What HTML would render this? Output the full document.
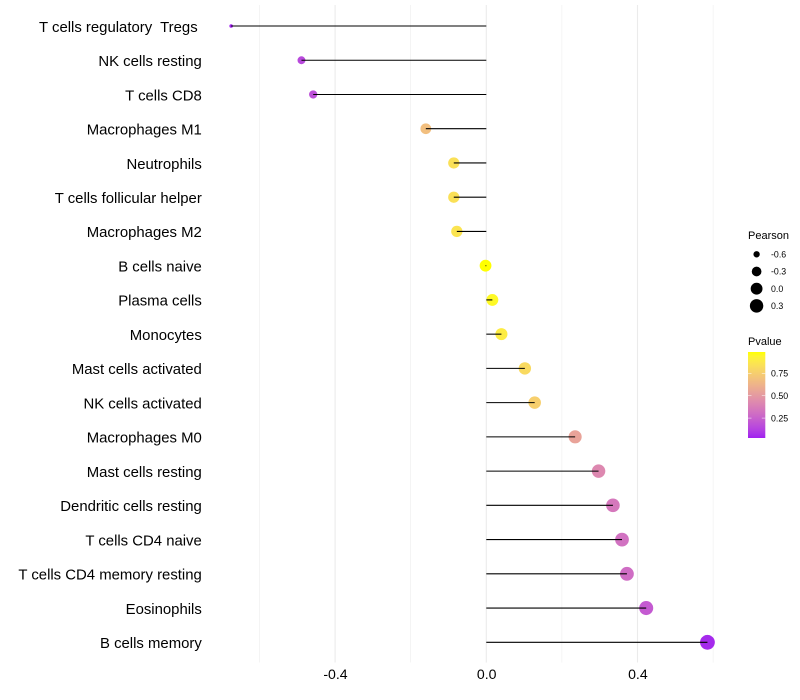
<!DOCTYPE html>
<html>
<head>
<meta charset="utf-8">
<title>Pearson lollipop chart</title>
<style>
html,body{margin:0;padding:0;background:#fff;width:800px;height:700px;overflow:hidden}
svg{display:block}
text{font-family:"Liberation Sans",sans-serif;white-space:pre}
</style>
</head>
<body>
<svg id="chart" xmlns="http://www.w3.org/2000/svg" width="800" height="700" viewBox="0 0 800 700"></svg>
<script>
const categories = ["T cells regulatory  Tregs ","NK cells resting","T cells CD8","Macrophages M1","Neutrophils","T cells follicular helper","Macrophages M2","B cells naive","Plasma cells","Monocytes","Mast cells activated","NK cells activated","Macrophages M0","Mast cells resting","Dendritic cells resting","T cells CD4 naive","T cells CD4 memory resting","Eosinophils","B cells memory"];
const pearson = [-0.675,-0.489,-0.458,-0.160,-0.086,-0.086,-0.078,-0.002,0.016,0.040,0.102,0.128,0.235,0.297,0.335,0.359,0.372,0.423,0.585];
const pvalue = [0.03,0.15,0.18,0.68,0.84,0.84,0.86,0.99,0.96,0.90,0.81,0.76,0.55,0.42,0.35,0.32,0.30,0.22,0.05];
const xMajorTicks = [-0.4,0,0.4];
const xTickLabels = ["-0.4","0.0","0.4"];
const xMinorTicks = [-0.6,-0.2,0.2,0.6];
const sizeBreaks = [-0.6,-0.3,0,0.3];
const sizeLabels = ["-0.6","-0.3","0.0","0.3"];
const colorBreaks = [0.75,0.5,0.25];
const colorLabels = ["0.75","0.50","0.25"];

const svg = document.getElementById('chart');
const NS = 'http://www.w3.org/2000/svg';
function mk(tag, attrs, parent) {
  const e = document.createElementNS(NS, tag);
  for (const k in attrs) e.setAttribute(k, attrs[k]);
  (parent || svg).appendChild(e);
  return e;
}
/* axis functions */
function xScale(v) { return 486.3 + v * 378; }
function yScale(i) { return 26 + i * (642.3 - 26) / 18; }
const minP = Math.min(...pearson), maxP = Math.max(...pearson);
function rScale(v) {
  const t = Math.max(0, (v - minP) / (maxP - minP));
  return 1.8 + 5.6 * Math.sqrt(t);
}
const legendPmin = 0.027, legendPmax = 0.99;
function legendY(p) { return 438 - (p - legendPmin) / (legendPmax - legendPmin) * 86; }

/* purple -> yellow interpolated in Lab */
function toLab(r, g, b) {
  const f = c => { c /= 255; return c > 0.04045 ? Math.pow((c + 0.055) / 1.055, 2.4) : c / 12.92; };
  const R = f(r), G = f(g), B = f(b);
  const X = (0.4124 * R + 0.3576 * G + 0.1805 * B) / 0.95047;
  const Y = 0.2126 * R + 0.7152 * G + 0.0722 * B;
  const Z = (0.0193 * R + 0.1192 * G + 0.9505 * B) / 1.08883;
  const h = t => t > 0.008856 ? Math.cbrt(t) : 7.787 * t + 16 / 116;
  return [116 * h(Y) - 16, 500 * (h(X) - h(Y)), 200 * (h(Y) - h(Z))];
}
function fromLab(L, a, b) {
  const fy = (L + 16) / 116, fx = a / 500 + fy, fz = fy - b / 200;
  const g = t => t * t * t > 0.008856 ? t * t * t : (t - 16 / 116) / 7.787;
  const X = 0.95047 * g(fx), Y = g(fy), Z = 1.08883 * g(fz);
  const R = 3.2406 * X - 1.5372 * Y - 0.4986 * Z;
  const G = -0.9689 * X + 1.8758 * Y + 0.0415 * Z;
  const B = 0.0557 * X - 0.2040 * Y + 1.0570 * Z;
  const u = c => {
    c = c > 0.0031308 ? 1.055 * Math.pow(c, 1 / 2.4) - 0.055 : 12.92 * c;
    return Math.round(Math.min(1, Math.max(0, c)) * 255);
  };
  return 'rgb(' + u(R) + ',' + u(G) + ',' + u(B) + ')';
}
const labLow = toLab(160, 32, 240), labHigh = toLab(255, 255, 0);
function colorScale(p) {
  const t = Math.min(1, Math.max(0, (p - legendPmin) / (legendPmax - legendPmin)));
  return fromLab(labLow[0] + (labHigh[0] - labLow[0]) * t, labLow[1] + (labHigh[1] - labLow[1]) * t, labLow[2] + (labHigh[2] - labLow[2]) * t);
}

/* gridlines */
xMinorTicks.forEach(v => {
  const g = mk('line', {x1: xScale(v), x2: xScale(v), y1: 5, y2: 662.5, stroke: '#ebebeb', 'stroke-width': 0.55});
  
  
});
xMajorTicks.forEach((v, i) => {
  const g = mk('line', {x1: xScale(v), x2: xScale(v), y1: 5, y2: 662.5, stroke: '#ebebeb', 'stroke-width': 1.07});
  
  
  const t = mk('text', {x: xScale(v) + 0.4, y: 679, 'text-anchor': 'middle', 'font-size': 14.1, fill: '#000'});
  t.textContent = xTickLabels[i];
  
  
});

/* marks */
categories.forEach((c, i) => {
  const y = yScale(i);
  const t = mk('text', {x: 201.8, y: y + 5.8, 'text-anchor': 'end', 'font-size': 14.9, fill: '#000'});
  t.textContent = c;
  
  

  const p = mk('circle', {cx: xScale(pearson[i]), cy: y, r: rScale(pearson[i]), fill: colorScale(pvalue[i])});
  
  

  const s = mk('line', {x1: xScale(0), x2: xScale(pearson[i]), y1: y, y2: y, stroke: '#000', 'stroke-width': 1.07});
  
  
});

/* size legend */
const sizeTitle = mk('text', {x: 748, y: 239, 'font-size': 11, fill: '#000'});
sizeTitle.textContent = 'Pearson';


sizeBreaks.forEach((v, i) => {
  const y = 254.3 + i * 17.2;
  const c = mk('circle', {cx: 756.6, cy: y, r: rScale(v), fill: '#000'});
  
  
  const t = mk('text', {x: 771, y: y + 3.2, 'font-size': 8.8, fill: '#000'});
  t.textContent = sizeLabels[i];
  
  
});

/* color legend */
const colorTitle = mk('text', {x: 748, y: 345, 'font-size': 11, fill: '#000'});
colorTitle.textContent = 'Pvalue';


const defs = mk('defs', {});
const grad = mk('linearGradient', {id: 'pv', x1: 0, x2: 0, y1: 1, y2: 0}, defs);
for (let k = 0; k <= 20; k++) {
  mk('stop', {offset: k / 20, 'stop-color': colorScale(legendPmin + (legendPmax - legendPmin) * k / 20)}, grad);
}
const bar = mk('rect', {x: 748, y: 352, width: 17.3, height: 86, fill: 'url(#pv)'});


colorBreaks.forEach((v, i) => {
  const y = legendY(v);
  const a = mk('line', {x1: 748, x2: 751.5, y1: y, y2: y, stroke: '#fff', 'stroke-width': 0.5});
  
  
  const b = mk('line', {x1: 761.8, x2: 765.3, y1: y, y2: y, stroke: '#fff', 'stroke-width': 0.5});
  
  
  const t = mk('text', {x: 771, y: y + 3.2, 'font-size': 8.8, fill: '#000'});
  t.textContent = colorLabels[i];
  
  
});
</script>
</body>
</html>
